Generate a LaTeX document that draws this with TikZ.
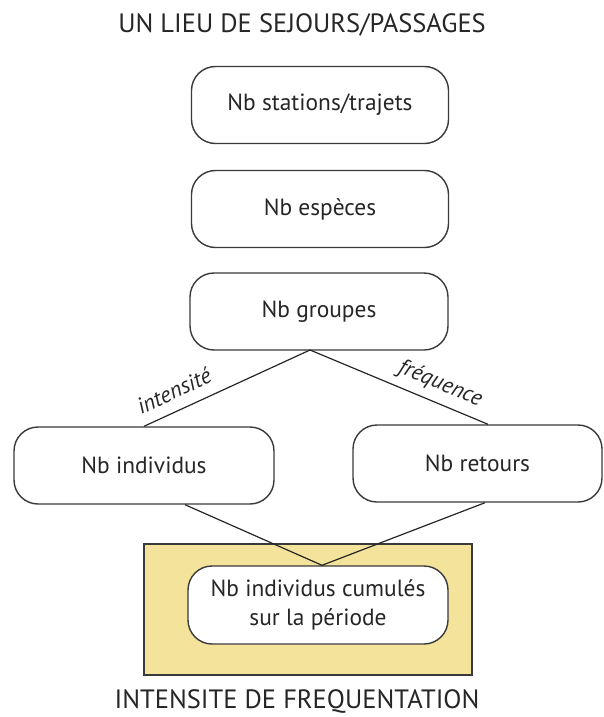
\documentclass[tikz,border=0pt]{standalone}
\usepackage{fontspec}
\setmainfont{PT Sans}
\usetikzlibrary{calc}
\definecolor{boxline}{HTML}{3A3A3A}
\definecolor{sand}{HTML}{F3E39B}
\tikzset{
  rbox/.style={draw=boxline, line width=1.4pt, rounded corners=24pt, fill=white,
    minimum width=#1, minimum height=77pt, inner sep=0pt, align=center,
    font=\fontsize{23.4}{29}\selectfont, text=black!85},
  rbox/.default=257pt,
  link/.style={draw=black!85, line width=1.2pt},
  lab/.style={font=\fontsize{22.5}{26}\selectfont\itshape, inner sep=0pt, text=black!85},
  ttl/.style={font=\fontsize{26.5}{30}\selectfont, inner sep=0pt, text=black!85}
}
\begin{document}
\begin{tikzpicture}[x=1pt,y=-1pt]
\useasboundingbox (0,0) rectangle (603,717);
\node[ttl] (t1) at (302,25) {UN LIEU DE SEJOURS/PASSAGES};
\node[rbox] (b1) at (320,105) {Nb stations/trajets};
\node[rbox] (b2) at (320,209) {Nb espèces};
\node[rbox=258pt] (b3) at (319,311.5) {Nb groupes};
\node[rbox=260pt] (b4) at (144,465.5) {Nb individus};
\node[rbox=249pt] (b5) at (477.5,463.5) {Nb retours};
\node[draw=boxline, line width=1.5pt, fill=sand, minimum width=328pt, minimum height=131pt, inner sep=0pt] (yb) at (308,609.5) {};
\node[rbox=260pt, minimum height=78pt] (b6) at (318,605) {Nb individus cumulés\\sur la période};
\node[ttl] (t2) at (297,701) {INTENSITE DE FREQUENTATION};
\coordinate (apex) at (310,350);
\coordinate (r5) at ($(b5.north)+(10.5,0)$);
\coordinate (l4) at ($(b4.south)+(41,0)$);
\coordinate (l5) at ($(b5.south)+(7.5,0)$);
\coordinate (m6) at ($(b6.north)+(4,0)$);
\draw[link] (apex) -- node[lab, pos=.77, sloped, above=11pt] {intensité} (b4.north);
\draw[link] (apex) -- node[lab, pos=.69, sloped, above=8pt] {fréquence} (r5);
\draw[link] (l4) -- (m6);
\draw[link] (l5) -- (m6);
\end{tikzpicture}
\end{document}
